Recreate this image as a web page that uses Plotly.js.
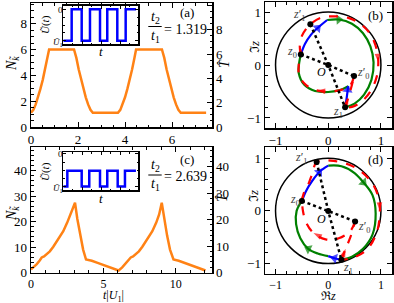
<!DOCTYPE html>
<html><head><meta charset="utf-8">
<script src="https://cdn.plot.ly/plotly-3.0.1.min.js"></script>
<style>html,body{margin:0;padding:0;background:#fff;}#chart{width:394px;height:303px;}</style>
</head><body><div id="chart"></div>
<script>
// ---------- data ----------
// panel (a): N_k vs t|U1|
const tA = [0,0.1,0.2,0.3,0.4,0.5,0.6,0.7,0.77,1.83,1.93,2.03,2.13,2.23,2.33,2.43,2.53,2.63,3.70,3.80,3.90,4.00,4.10,4.20,4.30,4.40,4.47,5.57,5.67,5.77,5.87,5.97,6.07,6.17,6.27,6.37,7.45];
const nA = [1.1,1.33,1.75,2.3,2.95,3.65,4.45,5.35,6.0,6.0,5.35,4.45,3.65,2.95,2.3,1.75,1.33,1.1,1.1,1.33,1.75,2.3,2.95,3.65,4.45,5.35,6.0,6.0,5.35,4.45,3.65,2.95,2.3,1.75,1.33,1.1,1.1];
// panel (c)
const tC = [0,0.2,0.4,0.6,0.74,0.9,1.1,1.3,1.54,1.8,2.0,2.23,2.5,2.75,3.04,3.2,3.4,3.6,3.8,4.2,4.6,5.0,5.4,5.8,6.05,6.3,6.5,6.7,6.89,7.05,7.25,7.45,7.69,7.95,8.15,8.38,8.65,8.85,9.03,9.2,9.4,9.6,9.84,10.2,10.6,11.0,11.4,11.8,12.05];
const nC = [1.2,2.1,3.3,4.7,5.9,6.3,7.2,8.3,10.1,12.3,14.0,16.2,19.6,23.0,27.4,21.0,14.5,9.0,5.1,4.6,3.8,3.0,2.1,1.2,0.8,2.0,3.2,4.6,5.9,6.3,7.2,8.3,10.1,12.3,14.0,16.2,19.6,22.8,27.4,21.0,14.5,9.0,5.1,4.6,3.8,3.0,2.1,1.2,0.8];
// insets: square-wave U(t)
const insAt = [0,1.06,2.33,3.38,4.65,5.57,6.84,7.9,9.2];
const insAu = [-1,0,-1,0,-1,0,-1,0,0];
const insCt = [0,0.51,2.33,3.29,4.65,5.57,6.89,7.81,9.2];
const insCu = [-1,-0.52,-1,-0.52,-1,-0.52,-1,-0.52,-0.52];
// panel (b) trajectories
const bBlue1X = [-0.52,-0.44,-0.33,-0.2,-0.02], bBlue1Y = [0.20,0.40,0.57,0.70,0.85];
const bGreen1X = [-0.02,0.2,0.45,0.66,0.8,0.86,0.82,0.68,0.5,0.32], bGreen1Y = [0.85,0.86,0.78,0.6,0.35,0.05,-0.28,-0.56,-0.73,-0.8];
const bBlue2X = [0.32,0.35,0.37,0.38], bBlue2Y = [-0.8,-0.62,-0.47,-0.40];
const bGreen2X = [0.38,0.2,0.0,-0.25,-0.45,-0.56,-0.55,-0.52], bGreen2Y = [-0.40,-0.48,-0.51,-0.49,-0.38,-0.15,0.05,0.2];
const bRed1X = [-0.52,-0.54,-0.50,-0.42,-0.34,-0.15,0.10,0.38,0.62,0.82,0.93,0.95,0.92,0.80,0.62,0.45,0.32];
const bRed1Y = [0.20,0.35,0.55,0.68,0.77,0.89,0.92,0.89,0.77,0.55,0.25,0.05,-0.22,-0.5,-0.7,-0.79,-0.80];
const bRed2X = [0.32,0.38,0.43,0.49], bRed2Y = [-0.80,-0.62,-0.45,-0.21];
const bRed3X = [0.49,0.42,0.25,0.0,-0.22,-0.42,-0.55,-0.56,-0.52], bRed3Y = [-0.21,-0.38,-0.47,-0.5,-0.48,-0.38,-0.2,0.0,0.2];
const bPtsX = [-0.52,0.49,0.32,-0.34,0], bPtsY = [0.20,-0.21,-0.80,0.77,0];
// panel (d) trajectories
const dBlue1X = [-0.50,-0.42,-0.31,-0.17,0.0], dBlue1Y = [0.19,0.38,0.56,0.74,0.86];
const dGreen1X = [0.0,0.25,0.5,0.67,0.84,0.9,0.84,0.66,0.45,0.25], dGreen1Y = [0.86,0.85,0.72,0.54,0.3,-0.05,-0.45,-0.72,-0.87,-0.93];
const dBlue2X = [0.25,0.12,0.0], dBlue2Y = [-0.93,-0.9,-0.86];
const dGreen2X = [0.0,-0.2,-0.38,-0.53,-0.61,-0.6,-0.5], dGreen2Y = [-0.86,-0.81,-0.72,-0.52,-0.25,0.0,0.19];
const dRed1X = [-0.5,-0.47,-0.38,-0.3,-0.22,0.1,0.5,0.82,0.97,0.98,0.93,0.75,0.5,0.25];
const dRed1Y = [0.19,0.32,0.5,0.72,0.93,0.95,0.83,0.55,0.2,0.0,-0.38,-0.72,-0.88,-0.93];
const dRed2X = [0.25,0.33,0.42,0.51], dRed2Y = [-0.93,-0.72,-0.5,-0.2];
const dRed3X = [0.51,0.42,0.2,-0.05,-0.28,-0.42,-0.48,-0.5], dRed3Y = [-0.2,-0.38,-0.52,-0.54,-0.42,-0.22,0.0,0.19];
const dPtsX = [-0.5,0.51,0.25,-0.22,0], dPtsY = [0.19,-0.2,-0.93,0.93,0];
const ratioA = '1.319', ratioC = '2.639';

// ---------- helpers ----------
const W = 394, H = 303;
const SERIF = 'Liberation Serif, DejaVu Serif, serif';
const ORANGE = '#ff8215', GREEN = '#008000', BLUE = '#0000ff', RED = '#ff0000';
const fx = p => p / W, fy = p => 1 - p / H;
function ax(extra) {
  return Object.assign({showline: true, linecolor: '#000', linewidth: 1.5, ticks: 'inside', ticklen: 5, tickwidth: 1,
    tickcolor: '#000', showgrid: false, zeroline: false, fixedrange: true,
    tickfont: {family: SERIF, size: 13, color: '#000'},
    minor: {ticks: 'inside', ticklen: 2.5, tickwidth: 1, tickcolor: '#000', showgrid: false}}, extra);
}
function A(text, xp, yp, size, extra) {
  return Object.assign({text, x: fx(xp), y: fy(yp), xref: 'paper', yref: 'paper', showarrow: false,
    xanchor: 'center', yanchor: 'middle', font: {family: SERIF, size, color: '#000'}}, extra || {});
}
function path(xs, ys, xa, ya, color, dash, arrowIdx, sym) {
  const sizes = xs.map((_, i) => arrowIdx.includes(i) ? 9 : 0);
  return {x: xs, y: ys, xaxis: xa, yaxis: ya, mode: 'lines+markers', hoverinfo: 'skip',
    line: {color, width: 2.2, dash, shape: 'spline', smoothing: 1},
    marker: {symbol: sym, size: sizes, color, angleref: 'previous', line: {width: 0}}};
}
function dots(px, py, xa, ya) {
  const out = [];
  out.push({x: [px[0], px[4], px[1]], y: [py[0], py[4], py[1]], xaxis: xa, yaxis: ya, mode: 'lines',
    line: {color: '#000', width: 2.5, dash: 'dot'}});
  out.push({x: [px[3], px[4], px[2]], y: [py[3], py[4], py[2]], xaxis: xa, yaxis: ya, mode: 'lines',
    line: {color: '#000', width: 2.5, dash: 'dot'}});
  out.push({x: px, y: py, xaxis: xa, yaxis: ya, mode: 'markers', marker: {color: '#000', size: 6}});
  return out;
}

const traces = [
  {x: tA, y: nA, xaxis: 'x', yaxis: 'y', mode: 'lines', line: {color: ORANGE, width: 2.5}},
  {x: [], y: [], xaxis: 'x', yaxis: 'y2'},
  {x: tC, y: nC, xaxis: 'x3', yaxis: 'y4', mode: 'lines', line: {color: ORANGE, width: 2.5}},
  {x: [], y: [], xaxis: 'x3', yaxis: 'y5'},
  {x: insAt, y: insAu, xaxis: 'x5', yaxis: 'y7', mode: 'lines', line: {color: BLUE, width: 2.5, shape: 'hv'}},
  {x: insCt, y: insCu, xaxis: 'x6', yaxis: 'y8', mode: 'lines', line: {color: BLUE, width: 2.5, shape: 'hv'}},
  // (b)
  path(bGreen1X, bGreen1Y, 'x2', 'y3', GREEN, 'solid', [1], 'triangle-up'),
  path(bGreen2X, bGreen2Y, 'x2', 'y3', GREEN, 'solid', [], 'triangle-up'),
  path(bBlue1X, bBlue1Y, 'x2', 'y3', BLUE, 'solid', [3], 'triangle-up'),
  path(bBlue2X, bBlue2Y, 'x2', 'y3', BLUE, 'solid', [2], 'triangle-up'),
  path(bRed1X, bRed1Y, 'x2', 'y3', RED, 'dash', [1, 11], 'arrow'),
  path(bRed2X, bRed2Y, 'x2', 'y3', RED, 'dash', [1], 'arrow'),
  path(bRed3X, bRed3Y, 'x2', 'y3', RED, 'dash', [4], 'arrow'),
  ...dots(bPtsX, bPtsY, 'x2', 'y3'),
  // (d)
  path(dGreen1X, dGreen1Y, 'x4', 'y6', GREEN, 'solid', [3], 'triangle-up'),
  path(dGreen2X, dGreen2Y, 'x4', 'y6', GREEN, 'solid', [2], 'triangle-up'),
  path(dBlue1X, dBlue1Y, 'x4', 'y6', BLUE, 'solid', [3], 'triangle-up'),
  path(dBlue2X, dBlue2Y, 'x4', 'y6', BLUE, 'solid', [1], 'triangle-up'),
  path(dRed1X, dRed1Y, 'x4', 'y6', RED, 'dash', [1, 9], 'arrow'),
  path(dRed2X, dRed2Y, 'x4', 'y6', RED, 'dash', [1], 'arrow'),
  path(dRed3X, dRed3Y, 'x4', 'y6', RED, 'dash', [4], 'arrow'),
  ...dots(dPtsX, dPtsY, 'x4', 'y6')
];

const dLeft = [fx(31), fx(212)], dRight = [fx(265), fx(392)];
const smallTick = {family: SERIF, size: 12, color: '#000'};
const layout = {
  width: W, height: H, margin: {l: 0, r: 0, t: 0, b: 0}, showlegend: false,
  paper_bgcolor: '#fff', plot_bgcolor: 'rgba(0,0,0,0)', hovermode: false,
  xaxis: ax({domain: dLeft, anchor: 'y', range: [0, 7.7], dtick: 2, mirror: 'ticks', minor: {ticks: 'inside', ticklen: 2.5, dtick: 0.5, tickcolor: '#000'}}),
  yaxis: ax({domain: [fy(127), fy(3)], anchor: 'x', range: [0, 9.6], dtick: 2, minor: {ticks: 'inside', ticklen: 2.5, dtick: 0.5, tickcolor: '#000'}}),
  yaxis2: ax({overlaying: 'y', side: 'right', anchor: 'x', range: [0, 10.2], dtick: 2, minor: {ticks: 'inside', ticklen: 2.5, dtick: 0.5, tickcolor: '#000'}}),
  xaxis2: ax({domain: dRight, anchor: 'y3', range: [-1.2, 1.21], dtick: 1, mirror: 'ticks', minor: {ticks: 'inside', ticklen: 2.5, dtick: 0.2, tickcolor: '#000'}}),
  yaxis3: ax({domain: [fy(128), fy(2)], anchor: 'x2', range: [-1.19, 1.19], dtick: 1, mirror: 'ticks', minor: {ticks: 'inside', ticklen: 2.5, dtick: 0.2, tickcolor: '#000'}}),
  xaxis3: ax({domain: dLeft, anchor: 'y4', range: [0, 12.5], dtick: 5, mirror: 'ticks', tickfont: smallTick, minor: {ticks: 'inside', ticklen: 2.5, dtick: 1, tickcolor: '#000'}}),
  yaxis4: ax({domain: [fy(272.5), fy(147)], anchor: 'x3', range: [0, 49.3], dtick: 10, minor: {ticks: 'inside', ticklen: 2.5, dtick: 2, tickcolor: '#000'}}),
  yaxis5: ax({overlaying: 'y4', side: 'right', anchor: 'x3', range: [0, 47.5], dtick: 10, minor: {ticks: 'inside', ticklen: 2.5, dtick: 2, tickcolor: '#000'}}),
  xaxis4: ax({domain: dRight, anchor: 'y6', range: [-1.2, 1.21], dtick: 1, mirror: 'ticks', tickfont: smallTick, minor: {ticks: 'inside', ticklen: 2.5, dtick: 0.2, tickcolor: '#000'}}),
  yaxis6: ax({domain: [fy(273.5), fy(147)], anchor: 'x4', range: [-1.19, 1.215], dtick: 1, mirror: 'ticks', minor: {ticks: 'inside', ticklen: 2.5, dtick: 0.2, tickcolor: '#000'}}),
  xaxis5: ax({domain: [fx(63.3), fx(138.3)], anchor: 'y7', range: [0, 9.5], dtick: 2.4, mirror: 'ticks', showticklabels: false, ticklen: 3, minor: {ticks: 'inside', ticklen: 1.5, dtick: 1.2, tickcolor: '#000'}}),
  yaxis7: ax({domain: [fy(44.3), fy(5.7)], anchor: 'x5', range: [-1.115, 0.115], tickvals: [-1, 0], mirror: 'ticks', showticklabels: false, ticklen: 3, minor: {ticks: 'inside', ticklen: 1.5, dtick: 0.25, tickcolor: '#000'}}),
  xaxis6: ax({domain: [fx(63.3), fx(138.3)], anchor: 'y8', range: [0, 9.5], dtick: 2.4, mirror: 'ticks', showticklabels: false, ticklen: 3, minor: {ticks: 'inside', ticklen: 1.5, dtick: 1.2, tickcolor: '#000'}}),
  yaxis8: ax({domain: [fy(190.3), fy(152)], anchor: 'x6', range: [-1.12, 0.06], tickvals: [-1, 0], mirror: 'ticks', showticklabels: false, ticklen: 3, minor: {ticks: 'inside', ticklen: 1.5, dtick: 0.25, tickcolor: '#000'}}),
  shapes: [
    {type: 'circle', xref: 'x2', yref: 'y3', x0: -1, x1: 1, y0: -1, y1: 1, line: {color: '#000', width: 1.5}, layer: 'below'},
    {type: 'circle', xref: 'x4', yref: 'y6', x0: -1, x1: 1, y0: -1, y1: 1, line: {color: '#000', width: 1.5}, layer: 'below'},
    {type: 'line', xref: 'paper', yref: 'paper', x0: fx(148.3), x1: fx(161.7), y0: fy(26.5), y1: fy(26.5), line: {color: '#000', width: 1}},
    {type: 'line', xref: 'paper', yref: 'paper', x0: fx(148.3), x1: fx(161.7), y0: fy(175), y1: fy(175), line: {color: '#000', width: 1}}
  ],
  annotations: [
    A('(a)', 187, 13, 13), A('(b)', 375, 15, 13), A('(c)', 187, 160, 13), A('(d)', 375, 160, 13),
    A('<i>t</i><sub>2</sub>', 155, 17, 14), A('<i>t</i><sub>1</sub>', 155, 36, 14), A('= ' + ratioA, 185, 29.5, 14),
    A('<i>t</i><sub>2</sub>', 155, 165, 14), A('<i>t</i><sub>1</sub>', 155, 184, 14), A('= ' + ratioC, 185, 176, 14),
    A('<i>N</i><sub><i>k\u0303</i></sub>', 12, 64, 14, {textangle: -90}),
    A('<i>N</i><sub><i>k\u0303</i></sub>', 12, 214, 14, {textangle: -90}),
    A('<i>T\u0302</i>', 224, 64, 14, {textangle: -90}),
    A('<i>T\u0302</i>', 222, 198, 14, {textangle: -90}),
    A('\u2111<i>z</i>', 254, 47, 13, {textangle: -90}),
    A('\u2111<i>z</i>', 254, 196, 13, {textangle: -90}),
    A('\u211C<i>z</i>', 328, 296, 12),
    A('<i>t</i>|<i>U</i><sub>1</sub>|', 113, 295.5, 12),
    A('<i>\u0168</i>(<i>t</i>)', 45, 25, 11, {textangle: -90}),
    A('0', 60, 10, 9), A('<i>\u0168</i><sub>1</sub>', 58, 42, 9), A('<i>t</i>', 101, 52, 13),
    A('<i>\u0168</i>(<i>t</i>)', 45, 172, 11, {textangle: -90}),
    A('0', 60, 154, 9), A('<i>\u0168</i><sub>1</sub>', 58, 188, 9), A('<i>t</i>', 101, 198, 13)
  ]
};
// point labels in data coordinates
function zl(text, x, y, xa, ya, color) {
  return {text, x, y, xref: xa, yref: ya, showarrow: false, xanchor: 'center', yanchor: 'middle',
    font: {family: SERIF, size: 12, color: color || '#444'}};
}
const zLabels = ['<i>z</i><sub>0</sub>', '<i>z</i>\u2032<sub>0</sub>', '<i>z</i><sub>1</sub>', '<i>z</i>\u2032<sub>1</sub>', '<i>O</i>'];
const bLabX = [-0.68, 0.66, 0.19, -0.56, -0.12], bLabY = [0.25, -0.15, -0.88, 0.94, -0.13];
const dLabX = [-0.63, 0.67, 0.38, -0.51, -0.13], dLabY = [0.2, -0.3, -1.08, 1.0, -0.15];
zLabels.forEach((t, i) => {
  layout.annotations.push(zl(t, bLabX[i], bLabY[i], 'x2', 'y3', i === 4 ? '#000' : '#444'));
  layout.annotations.push(zl(t, dLabX[i], dLabY[i], 'x4', 'y6', i === 4 ? '#000' : '#444'));
});
Plotly.newPlot('chart', traces, layout, {staticPlot: true, displayModeBar: false});
</script></body></html>
